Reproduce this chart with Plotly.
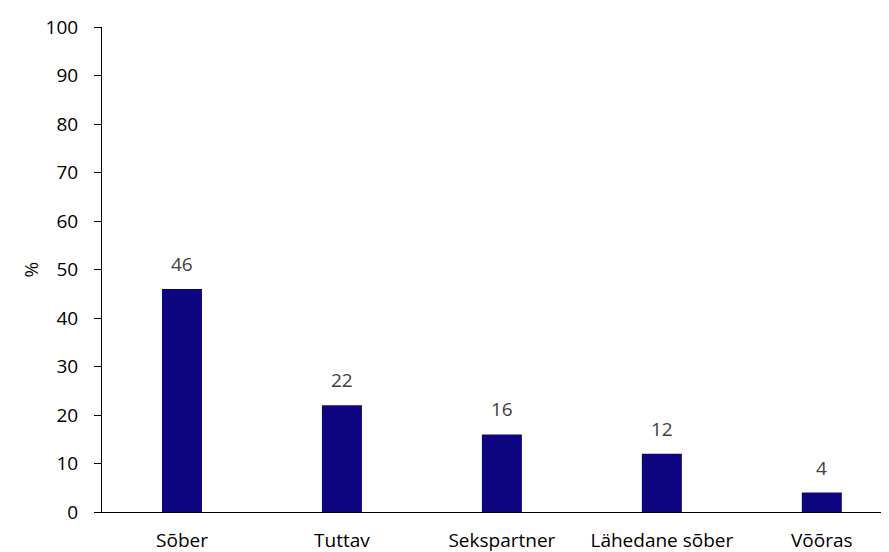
import plotly.graph_objects as go

############################################################
# DATA
############################################################

categories = ["Sõber", "Tuttav", "Sekspartner", "Lähedane sõber", "Võõras"]
values = [46, 22, 16, 12, 4]
y_ticks = [0, 10, 20, 30, 40, 50, 60, 70, 80, 90, 100]

############################################################
# BARS
############################################################

fig = go.Figure()

fig.add_trace(
    go.Bar(
        x=list(range(len(categories))),
        y=values,
        width=0.25,
        marker=dict(color="#0d0480", line=dict(width=0)),
        hoverinfo="skip"
    )
)

############################################################
# VALUE LABELS
############################################################

for i, v in enumerate(values):
    fig.add_annotation(
        x=i,
        y=v,
        text=str(v),
        showarrow=False,
        yanchor="bottom",
        yshift=10,
        font=dict(size=19, color="#404040")
    )

# y axis title placed by hand
fig.add_annotation(
    xref="paper",
    yref="paper",
    x=0,
    y=0.5,
    xanchor="center",
    yanchor="middle",
    xshift=-72,
    text="%",
    textangle=-90,
    showarrow=False,
    font=dict(size=19, color="black")
)

############################################################
# AXES
############################################################

fig.update_xaxes(
    range=[-0.5, 4.42],
    tickmode="array",
    tickvals=list(range(len(categories))),
    ticktext=categories,
    showline=True,
    linecolor="black",
    linewidth=1,
    ticks="",
    showgrid=False,
    zeroline=False,
    automargin=False,
    ticklabelstandoff=11,
    tickfont=dict(size=19, color="black")
)

fig.update_yaxes(
    range=[0, 100],
    tickvals=y_ticks,
    showline=True,
    linecolor="black",
    linewidth=1,
    ticks="outside",
    ticklen=7,
    tickcolor="black",
    showgrid=False,
    zeroline=False,
    automargin=False,
    ticklabelstandoff=12,
    tickfont=dict(size=19, color="black")
)

############################################################
# LAYOUT
############################################################

# page body has an 8px margin, so the figure is shrunk by that much
fig.update_layout(
    width=881,
    height=544,
    margin=dict(l=94, r=0, t=19, b=40),
    plot_bgcolor="white",
    paper_bgcolor="white",
    showlegend=False,
    font=dict(family="Open Sans, Liberation Sans, sans-serif")
)

fig.write_html("out.html")
